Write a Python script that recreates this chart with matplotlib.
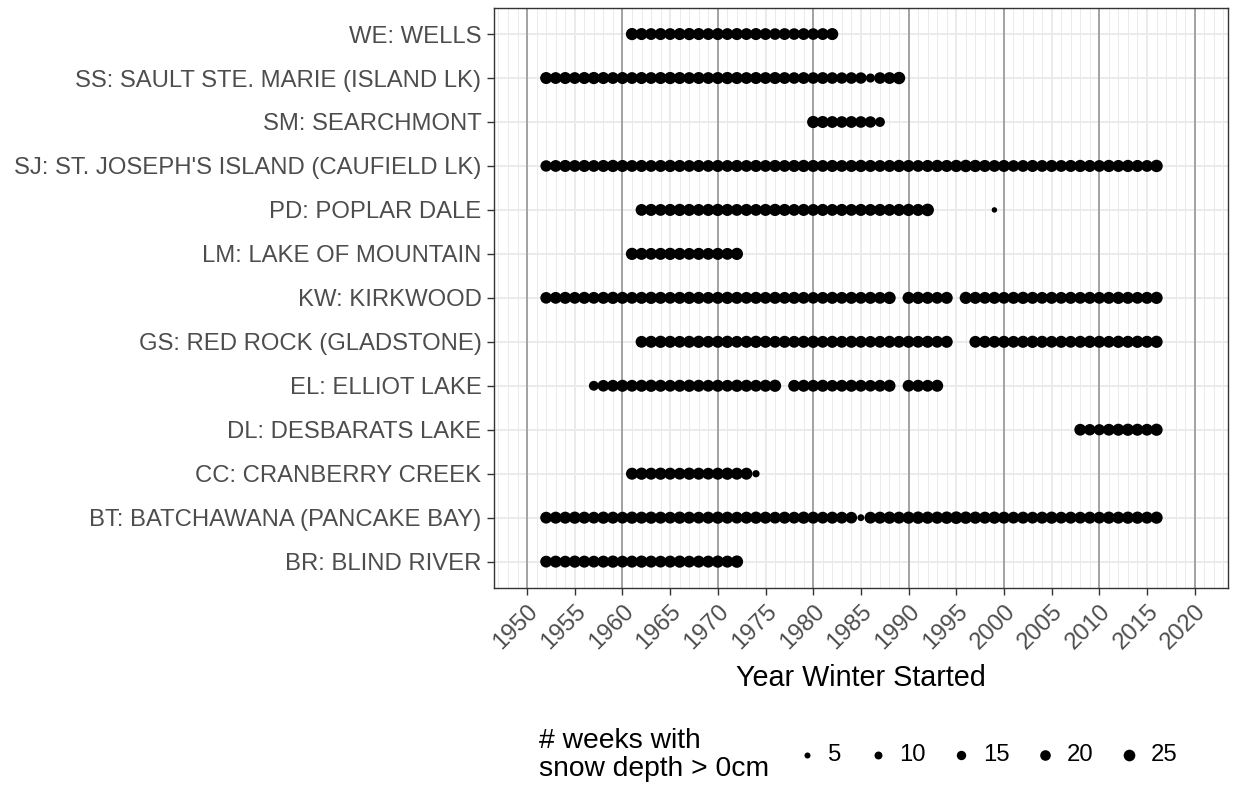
import matplotlib
matplotlib.use("Agg")
import matplotlib.pyplot as plt
import numpy as np

plt.rcParams['font.family'] = ['Liberation Sans', 'DejaVu Sans']

# stations, bottom to top
stations = ["BR: BLIND RIVER", "BT: BATCHAWANA (PANCAKE BAY)", "CC: CRANBERRY CREEK",
            "DL: DESBARATS LAKE", "EL: ELLIOT LAKE", "GS: RED ROCK (GLADSTONE)",
            "KW: KIRKWOOD", "LM: LAKE OF MOUNTAIN", "PD: POPLAR DALE",
            "SJ: ST. JOSEPH'S ISLAND (CAUFIELD LK)", "SM: SEARCHMONT",
            "SS: SAULT STE. MARIE (ISLAND LK)", "WE: WELLS"]

# years with records for each station (first, last winter of each run)
br_years = list(range(1952, 1973))
bt_years = list(range(1952, 2017))
cc_years = list(range(1961, 1975))
dl_years = list(range(2008, 2017))
el_years = list(range(1957, 1977)) + list(range(1978, 1989)) + list(range(1990, 1994))
gs_years = list(range(1962, 1995)) + list(range(1997, 2017))
kw_years = list(range(1952, 1989)) + list(range(1990, 1995)) + list(range(1996, 2017))
lm_years = list(range(1961, 1973))
pd_years = list(range(1962, 1993)) + [1999]
sj_years = list(range(1952, 2017))
sm_years = list(range(1980, 1988))
ss_years = list(range(1952, 1990))
we_years = list(range(1961, 1983))

# number of weeks with snow depth > 0cm
br_weeks = [26, 27, 26, 28, 27, 26, 27, 28, 26, 27, 28, 27, 26, 27, 28, 26, 27, 27, 28, 27, 29]
bt_weeks = [26, 27, 27, 28, 27, 26, 28, 27, 26, 28,
            27, 28, 27, 26, 28, 27, 26, 27, 28, 27,
            26, 27, 28, 27, 26, 27, 26, 28, 27, 26,
            27, 26, 25, 7, 26, 27, 28, 27, 28, 29,
            28, 28, 29, 30, 29, 28, 27, 28, 27, 26,
            27, 26, 27, 28, 26, 27, 26, 27, 26, 28,
            27, 28, 28, 27, 28]
cc_weeks = [27, 28, 27, 28, 27, 26, 28, 27, 26, 27, 28, 27, 27, 8]
dl_weeks = [26, 24, 23, 26, 27, 28, 27, 26, 28]
el_weeks = [17, 25, 26, 27, 26, 27, 28, 27, 26, 27, 28, 27, 26, 27, 26, 28, 27, 26, 27, 28,
            26, 27, 26, 27, 25, 26, 27, 26, 25, 26, 27,
            26, 27, 26, 27]
gs_weeks = [26, 27, 28, 27, 26, 27, 28, 26, 27, 28,
            26, 27, 28, 27, 26, 27, 26, 27, 28, 26,
            27, 26, 27, 26, 25, 26, 27, 26, 27, 26,
            27, 26, 27,
            26, 27, 26, 27, 26, 27, 28, 27, 26, 27,
            26, 27, 28, 27, 26, 28, 27, 28, 27, 28]
kw_weeks = [25, 26, 27, 26, 27, 26, 27, 28, 27, 26,
            27, 28, 27, 26, 27, 28, 27, 26, 27, 28,
            27, 26, 27, 26, 27, 26, 27, 26, 25, 26,
            27, 26, 27, 26, 27, 26, 29,
            27, 28, 27, 26, 27,
            28, 27, 26, 27, 26, 27, 28, 27, 26, 27,
            26, 27, 26, 27, 26, 27, 28, 27, 26, 27, 28]
lm_weeks = [28, 27, 26, 27, 28, 27, 26, 27, 26, 27, 26, 28]
pd_weeks = [26, 27, 26, 27, 28, 27, 26, 27, 28, 27,
            26, 27, 26, 27, 28, 27, 26, 27, 26, 27,
            26, 27, 26, 27, 26, 27, 26, 27, 28, 27,
            30, 4]
sj_weeks = [24, 26, 27, 26, 27, 26, 27, 28, 27, 26,
            27, 26, 27, 28, 27, 26, 27, 26, 27, 26,
            27, 26, 27, 26, 27, 26, 27, 28, 27, 26,
            27, 26, 27, 28, 27, 26, 27, 28, 27, 26,
            27, 28, 27, 28, 29, 28, 27, 26, 27, 25,
            26, 27, 26, 27, 26, 27, 28, 27, 26, 28,
            27, 28, 27, 26, 29]
sm_weeks = [28, 27, 26, 25, 26, 25, 24, 17]
ss_weeks = [27, 26, 27, 26, 27, 28, 27, 26, 27, 26,
            27, 26, 27, 28, 27, 26, 27, 26, 27, 28,
            27, 26, 27, 26, 27, 26, 25, 26, 25, 26,
            25, 24, 25, 24, 14, 25, 26, 29]
we_weeks = [28, 27, 26, 27, 26, 27, 28, 27, 26, 27,
            26, 27, 26, 27, 26, 25, 26, 25, 26, 25, 26, 27]

legend_weeks = [5, 10, 15, 20, 25]

all_years = [br_years, bt_years, cc_years, dl_years, el_years, gs_years, kw_years,
             lm_years, pd_years, sj_years, sm_years, ss_years, we_years]
all_weeks = [br_weeks, bt_weeks, cc_weeks, dl_weeks, el_weeks, gs_weeks, kw_weeks,
             lm_weeks, pd_weeks, sj_weeks, sm_weeks, ss_weeks, we_weeks]

w_min, w_max = 1, 30


def marker_area(w):
    # like ggplot scale_size: size 1..6 by sqrt of rescaled value
    r = (np.asarray(w, dtype=float) - w_min) / (w_max - w_min)
    d_px = 2.1 * (1 + 5 * np.sqrt(r))
    return (d_px * 72 / 100) ** 2


fig = plt.figure(figsize=(12.33, 7.93), dpi=100)
ax = fig.add_axes([0.4004, 0.2585, 0.5956, 0.7318])

# grid
for yr in range(1947, 2024):
    lw = 1.4 if yr % 5 == 0 else 0.7
    ax.axvline(yr, color="#EBEBEB", lw=lw, zorder=0)
for i in range(len(stations)):
    ax.axhline(i, color="#EBEBEB", lw=1.4, zorder=0)
for yr in range(1950, 2021, 10):
    ax.axvline(yr, color="#A3A3A3", lw=1.4, zorder=1)

for i, (yrs, wks) in enumerate(zip(all_years, all_weeks)):
    ax.scatter(yrs, [i] * len(yrs), s=marker_area(wks), c="black", linewidths=0, zorder=3)

ax.set_xlim(1946.5, 2023.5)
ax.set_ylim(-0.6, len(stations) - 0.4)
ax.set_xticks(range(1950, 2021, 5))
ax.set_xticklabels([str(y) for y in range(1950, 2021, 5)], rotation=45, ha="right",
                   va="top", rotation_mode="anchor")
ax.set_yticks(range(len(stations)))
ax.set_yticklabels(stations)
ax.tick_params(axis="both", length=4.8, width=1.0, color="#333333", labelcolor="#4D4D4D",
               labelsize=17.2, pad=4)
for sp in ax.spines.values():
    sp.set_color("#333333")
    sp.set_linewidth(1.0)
ax.set_xlabel("Year Winter Started", fontsize=20.7, color="black", va="top")
ax.xaxis.set_label_coords(0.5, -0.131)

handles = [ax.scatter([], [], s=marker_area(w), c="black", linewidths=0) for w in legend_weeks]
fig.legend(handles, [str(w) for w in legend_weeks], ncol=5, frameon=False,
           loc="center left", bbox_to_anchor=(795 / 1233, 1 - 755 / 793),
           fontsize=17.2, handlelength=1.0, handletextpad=0.4, columnspacing=1.0,
           borderpad=0, borderaxespad=0)
fig.text(539 / 1233, 1 - 755 / 793, "# weeks with\nsnow depth > 0cm", fontsize=20.3,
         ha="left", va="center", linespacing=1.06)

fig.savefig("out.png", dpi=100)
